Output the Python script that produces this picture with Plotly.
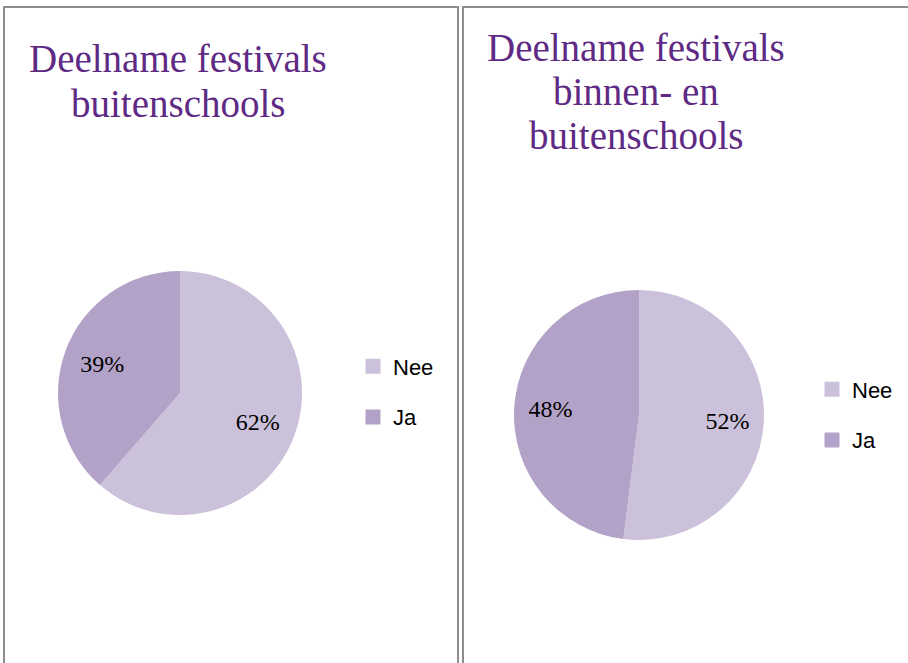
import plotly.graph_objects as go

W, H = 908, 663

categories = ["Nee", "Ja"]
buitenschools = [62, 39]
binnen_buiten = [52, 48]
colors = ["#CCC1DA", "#B3A2C7"]
title_left = ["Deelname festivals", "buitenschools"]
title_right = ["Deelname festivals", "binnen- en", "buitenschools"]

def px(x):
    return x / W

def py(y):
    return 1 - y / H

fig = go.Figure()

pie_font = dict(family="Liberation Serif", size=24, color="#000000")

def add_pie(values, dom, label_hole):
    # filled pie
    fig.add_trace(go.Pie(
        labels=categories, values=values, sort=False, direction="clockwise",
        rotation=0, marker=dict(colors=colors), textposition="none",
        showlegend=False, hoverinfo="label+value", domain=dom,
    ))
    # transparent overlay carrying the percentage labels
    fig.add_trace(go.Pie(
        labels=categories, values=values, sort=False, direction="clockwise",
        rotation=0, hole=label_hole,
        marker=dict(colors=["rgba(0,0,0,0)"] * len(values), line=dict(width=0)),
        textposition="inside", insidetextorientation="horizontal",
        texttemplate="%{value}%", textfont=pie_font, insidetextfont=pie_font,
        showlegend=False, hoverinfo="skip", domain=dom,
    ))

add_pie(buitenschools, dict(x=[px(58), px(302)], y=[py(515), py(271)]), 0.36)
add_pie(binnen_buiten, dict(x=[px(514), px(764)], y=[py(540), py(290)]), 0.42)

# legend entries
for i, (cat, col) in enumerate(zip(categories, colors)):
    fig.add_trace(go.Scatter(
        x=[None], y=[None], mode="markers", name=cat,
        marker=dict(symbol="square", size=15, color=col),
        legend="legend", legendgroup=f"l1_{cat}", showlegend=True,
    ))
    fig.add_trace(go.Scatter(
        x=[None], y=[None], mode="markers", name=cat,
        marker=dict(symbol="square", size=15, color=col),
        legend="legend2", legendgroup=f"l2_{cat}", showlegend=True,
    ))

legend_font = dict(family="Liberation Sans", size=22, color="#000000")
common_legend = dict(font=legend_font, bgcolor="rgba(0,0,0,0)", borderwidth=0,
                     tracegroupgap=19, xanchor="left", yanchor="middle",
                     itemsizing="trace")

title_font = dict(family="Liberation Serif", size=39, color="#5E2A84")
annotations = []
for i, line in enumerate(title_left):
    annotations.append(dict(text=line, x=px(178), y=py(58 + 45 * i), xref="paper", yref="paper",
                            xanchor="center", yanchor="middle", showarrow=False, font=title_font))
for i, line in enumerate(title_right):
    annotations.append(dict(text=line, x=px(636), y=py(48 + 44 * i), xref="paper", yref="paper",
                            xanchor="center", yanchor="middle", showarrow=False, font=title_font))

shapes = [
    dict(type="rect", xref="paper", yref="paper", x0=px(4), x1=px(458), y0=py(7), y1=py(700),
         line=dict(color="#8C8C8C", width=2)),
    dict(type="rect", xref="paper", yref="paper", x0=px(463), x1=px(950), y0=py(7), y1=py(700),
         line=dict(color="#8C8C8C", width=2)),
]

fig.update_layout(
    width=W, height=H, margin=dict(l=0, r=0, t=0, b=0),
    paper_bgcolor="#FFFFFF", plot_bgcolor="#FFFFFF",
    xaxis=dict(visible=False), yaxis=dict(visible=False),
    legend=dict(x=px(353), y=py(392), **common_legend),
    legend2=dict(x=px(812), y=py(415), **common_legend),
    annotations=annotations, shapes=shapes,
)

fig.write_html("out.html", config={"displayModeBar": False},
               post_script="document.body.style.margin='0px';document.body.style.overflow='hidden';")
